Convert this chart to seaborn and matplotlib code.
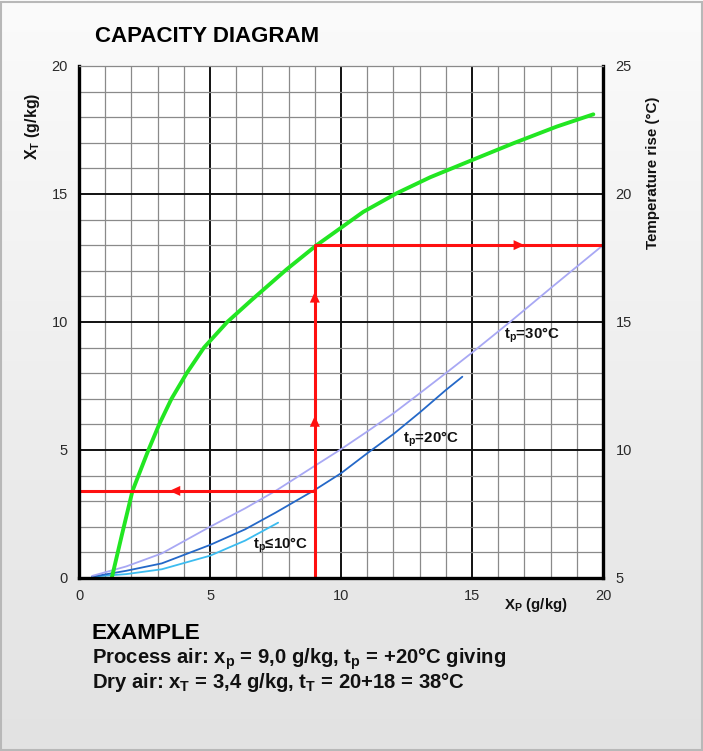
import numpy as np
import pandas as pd
import matplotlib
matplotlib.use("Agg")
import matplotlib.pyplot as plt
from matplotlib.colors import LinearSegmentedColormap
import seaborn as sns

# ---------------- data ----------------
green_x = [1.25, 1.64, 2.04, 2.65, 3.06, 3.53, 4.11, 4.77, 5.66, 6.59, 7.92, 9.07,
           10.85, 12.13, 13.40, 15.02, 16.58, 18.23, 19.63]
green_y = [0.0, 1.7, 3.4, 5.0, 6.0, 7.0, 8.0, 9.0, 10.0, 10.86, 12.05, 13.0,
           14.3, 15.03, 15.65, 16.33, 16.98, 17.63, 18.11]

t30_x = [0.5, 1.8, 3.16, 5.0, 6.34, 7.5, 9.0, 10.0, 11.0, 12.0, 13.0, 14.0, 15.0,
         16.45, 18.0, 20.0]
t30_y = [0.08, 0.45, 0.96, 2.0, 2.72, 3.4, 4.38, 5.03, 5.72, 6.43, 7.21, 8.0, 8.8,
         10.0, 11.32, 13.0]

t20_x = [0.5, 1.8, 3.16, 5.0, 6.34, 7.5, 9.0, 10.0, 11.0, 12.0, 13.0, 14.0, 14.63]
t20_y = [0.05, 0.28, 0.57, 1.29, 1.9, 2.55, 3.44, 4.09, 4.87, 5.62, 6.46, 7.34, 7.86]

t10_x = [0.5, 1.8, 3.16, 5.0, 6.34, 7.6]
t10_y = [0.05, 0.15, 0.34, 0.87, 1.46, 2.16]

# example path (process air x_p = 9.0 -> x_T = 3.4, rise 18 K -> 13 on left scale)
path_x = [9.0, 9.0, 20.0]
path_y = [0.0, 13.0, 13.0]
dry_x = [9.0, 0.0]
dry_y = [3.4, 3.4]

arrow_tip_x = [17.0, 9.0, 9.0, 3.45]
arrow_tip_y = [13.0, 11.18, 6.33, 3.4]
arrow_dir_x = [1, 0, 0, -1]
arrow_dir_y = [0, 1, 1, 0]

curve_labels = ["t$_{p}$=30°C", "t$_{p}$=20°C", "t$_{p}$≤10°C"]
curve_label_x = [16.22, 12.35, 6.64]
curve_label_y = [9.49, 5.42, 1.29]

x_ticks = [0, 5, 10, 15, 20]
y_ticks = [0, 5, 10, 15, 20]
y2_ticks = [5, 10, 15, 20, 25]

# ---------------- style ----------------
sns.set_theme(style="white")
plt.rcParams["font.family"] = ["Liberation Sans", "DejaVu Sans"]
plt.rcParams["mathtext.fontset"] = "custom"
plt.rcParams["mathtext.rm"] = "Liberation Sans"
plt.rcParams["mathtext.bf"] = "Liberation Sans:bold"
plt.rcParams["mathtext.it"] = "Liberation Sans:italic"
plt.rcParams["mathtext.default"] = "bf"

fig = plt.figure(figsize=(7.03, 7.51), dpi=100)

# background gradient
bg = fig.add_axes([0, 0, 1, 1], zorder=-10)
grad = np.linspace(0, 1, 256).reshape(-1, 1)
cmap = LinearSegmentedColormap.from_list("bg", ["#fbfbfb", "#e2e2e2"])
bg.imshow(grad, aspect="auto", cmap=cmap, extent=[0, 1, 0, 1], origin="upper")
bg.set_xlim(0, 1); bg.set_ylim(0, 1)
bg.axis("off")
bg.add_patch(plt.Rectangle((0.001, 0.001), 0.997, 0.997, fill=False,
                           edgecolor="#b8b8b8", lw=1.5, transform=bg.transAxes))

ax = fig.add_axes([0.1124, 0.2304, 0.7454, 0.6818])
ax.set_facecolor("white")
ax.set_xlim(0, 20)
ax.set_ylim(0, 20)
ax.set_xticks(x_ticks)
ax.set_yticks(y_ticks)
ax.set_xticks(np.arange(0, 21, 1), minor=True)
ax.set_yticks(np.arange(0, 21, 1), minor=True)
ax.grid(which="minor", color="#8a8a8a", lw=0.9)
ax.grid(which="major", color="#111111", lw=1.4)
ax.set_axisbelow(True)
ax.tick_params(which="both", length=0, labelsize=10.5, colors="#2a2a2a", pad=8)
for s in ["left", "bottom", "right"]:
    ax.spines[s].set_color("black")
    ax.spines[s].set_linewidth(2.4)
ax.spines["top"].set_color("#8a8a8a")
ax.spines["top"].set_linewidth(0.9)

def line(x, y, color, lw):
    df = pd.DataFrame({"x": x, "y": y})
    sns.lineplot(data=df, x="x", y="y", ax=ax, color=color, lw=lw,
                 sort=False, estimator=None, legend=False)

line(t10_x, t10_y, "#3cbcf0", 1.3)
line(t20_x, t20_y, "#2468c8", 1.3)
line(t30_x, t30_y, "#a8a8f4", 1.3)
line(green_x, green_y, "#22e622", 2.8)
line(path_x, path_y, "#ff1010", 2.2)
line(dry_x, dry_y, "#ff1010", 2.2)
ax.set_xlabel("")
ax.set_ylabel("")

for tx, ty, dx, dy in zip(arrow_tip_x, arrow_tip_y, arrow_dir_x, arrow_dir_y):
    ax.annotate("", xy=(tx, ty), xytext=(tx - 0.3 * dx, ty - 0.3 * dy),
                arrowprops=dict(arrowstyle="-|>,head_length=0.65,head_width=0.3",
                                color="#ff1010", lw=0, shrinkA=0, shrinkB=0))

for lab, lx, ly in zip(curve_labels, curve_label_x, curve_label_y):
    ax.text(lx, ly, lab, fontsize=10.8, fontweight="bold", color="#111111",
            ha="left", va="center")

ax2 = ax.twinx()
ax2.set_ylim(5, 25)
ax2.set_yticks(y2_ticks)
ax2.tick_params(length=0, labelsize=10.5, colors="#2a2a2a", pad=9)
for s in ax2.spines.values():
    s.set_visible(False)
ax2.grid(False)

# titles & labels
fig.text(95 / 703, 1 - 36 / 751, "CAPACITY DIAGRAM", fontsize=16, fontweight="bold",
         ha="left", va="center", color="black")
fig.text(33 / 703, 1 - 126 / 751, "X$_{T}$ (g/kg)", rotation=90, fontsize=11.5,
         fontweight="bold", ha="center", va="center", color="#111111")
fig.text(653 / 703, 1 - 173 / 751, "Temperature rise (°C)", rotation=90, fontsize=10.9,
         fontweight="bold", ha="center", va="center", color="#111111")
fig.text(536 / 703, 1 - 605 / 751, "X$_{P}$ (g/kg)", fontsize=10.8,
         fontweight="bold", ha="center", va="center", color="#111111")

fig.text(92 / 703, 1 - 639 / 751, "EXAMPLE", fontsize=16.2, fontweight="bold",
         ha="left", va="baseline", color="black")
fig.text(92 / 703, 1 - 664 / 751, "Process air: x$_{p}$ = 9,0 g/kg, t$_{p}$ = +20°C giving",
         fontsize=14.6, fontweight="bold", ha="left", va="baseline", color="#111111")
fig.text(92 / 703, 1 - 688 / 751, "Dry air: x$_{T}$ = 3,4 g/kg, t$_{T}$ = 20+18 = 38°C",
         fontsize=14.6, fontweight="bold", ha="left", va="baseline", color="#111111")

fig.savefig("out.png", dpi=100)
